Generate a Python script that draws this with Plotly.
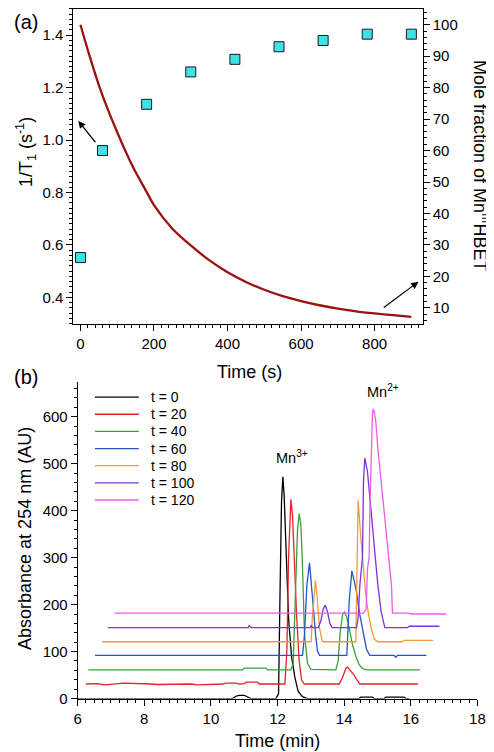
import plotly.graph_objects as go

# ---------------- Panel (a) data ----------------
curve_t = [0, 25, 50, 75, 100, 125, 150, 175, 200, 250, 300, 350, 400, 450, 500, 550, 600, 650, 700, 750, 800, 850, 900]
curve_r1 = [1.44, 1.32, 1.21, 1.115, 1.03, 0.95, 0.878, 0.815, 0.752, 0.662, 0.598, 0.542, 0.496, 0.459, 0.429, 0.405,
            0.386, 0.370, 0.357, 0.347, 0.339, 0.332, 0.326]

frac_t = [0, 60, 180, 300, 420, 540, 660, 780, 900]
frac_val = [26, 60, 74.7, 85, 89, 93, 95, 97, 97]

# ---------------- Panel (b) data ----------------
legend_names = ["t = 0", "t = 20", "t = 40", "t = 60", "t = 80", "t = 100", "t = 120"]
colors = ["#000000", "#E8202A", "#3A9E3A", "#2456C8", "#F39A3C", "#7D33D9", "#EE5CE6"]

t0_x = [6.0, 10.65, 10.75, 10.85, 11.0, 11.1, 11.2, 11.95, 12.03, 12.08, 12.12, 12.16, 12.2, 12.25, 12.33, 12.42, 12.52, 12.62, 12.75, 12.9,
        14.45, 14.5, 14.85, 14.9, 15.2, 15.25, 15.8, 15.85, 15.95]
t0_y = [0, 0, 5, 7, 7, 4, 0, 0, 10, 250, 420, 472, 430, 330, 171, 90, 45, 15, 4, 0,
        0, 3, 3, 0, 0, 3, 3, 0, 0]

t20_x = [6.25, 6.6, 6.8, 7.2, 7.4, 8.2, 8.4, 9.4, 9.6, 10.37, 10.45, 10.76, 10.85, 11.0, 11.06, 11.4, 11.45, 12.22, 12.28, 12.33, 12.4,
         12.45, 12.5, 12.57, 12.65, 12.72, 12.8, 13.85, 13.95, 14.05, 14.1, 14.2, 14.3, 14.4, 14.47, 16.21]
t20_y = [31, 32, 29, 31, 33, 31, 30, 31, 29, 31, 33, 33, 31, 32, 35, 35, 31, 31, 100, 300, 424,
         390, 300, 180, 80, 40, 31, 31, 45, 64, 67, 58, 50, 38, 31, 31]

t40_x = [6.32, 10.95, 11.0, 11.64, 11.7, 12.4, 12.47, 12.53, 12.6, 12.65, 12.7, 12.74, 12.76, 12.81, 12.9, 13.0,
         13.75, 13.82, 13.88, 13.95, 14.01, 14.07, 14.15, 14.25, 14.35, 14.45, 14.55, 14.65, 16.28]
t40_y = [61, 61, 65, 65, 61, 61, 75, 200, 360, 394, 370, 301, 241, 136, 75, 62,
         61, 80, 140, 178, 184, 175, 150, 115, 90, 72, 64, 61, 61]

t60_x = [6.52, 12.75, 12.81, 12.88, 12.96, 13.01, 13.06, 13.14, 13.2, 13.26,
         14.08, 14.15, 14.23, 14.31, 14.37, 14.47, 14.57, 14.67, 14.77, 15.5, 15.55, 15.6, 16.47]
t60_y = [92, 92, 136, 241, 289, 255, 206, 137, 101, 92,
         92, 206, 272, 248, 227, 178, 137, 105, 92, 92, 88, 92, 92]

t80_x = [6.73, 13.01, 13.04, 13.08, 13.14, 13.2, 13.26, 13.33, 13.36,
         14.35, 14.42, 14.5, 14.55, 14.6, 14.65, 14.72, 14.81, 14.91, 15.01, 15.75, 15.8, 16.67]
t80_y = [121, 121, 168, 200, 252, 206, 150, 126, 121,
         121, 422, 343, 301, 255, 220, 185, 150, 126, 121, 121, 124, 124]

t100_x = [6.91, 11.12, 11.15, 11.2, 12.98, 13.01, 13.04, 13.22, 13.3, 13.37, 13.43, 13.5, 13.57, 13.64,
          14.37, 14.42, 14.47, 14.55, 14.58, 14.62, 14.7, 14.77, 14.83, 14.89, 15.01, 15.11, 15.19, 15.22, 15.9, 15.95, 16.86]
t100_y = [151, 151, 156, 151, 151, 156, 151, 151, 165, 190, 199, 185, 160, 151,
          151, 171, 241, 301, 463, 512, 483, 427, 371, 329, 242, 185, 154, 151, 151, 154, 154]

t120_x = [7.1, 14.57, 14.62, 14.66, 14.7, 14.75, 14.78, 14.81, 14.85, 14.87, 14.9, 14.95, 15.01, 15.11, 15.21, 15.28, 15.35, 15.42, 15.45,
          15.95, 16.0, 17.06]
t120_y = [182, 182, 186, 190, 276, 301, 427, 533, 605, 617, 612, 590, 533, 462, 392, 343, 301, 241, 182,
          182, 180, 180]

series_x = [t0_x, t20_x, t40_x, t60_x, t80_x, t100_x, t120_x]
series_y = [t0_y, t20_y, t40_y, t60_y, t80_y, t100_y, t120_y]

# ---------------- Layout helpers ----------------
W, H = 494, 752
FONT = "Liberation Sans, Arial, Helvetica, sans-serif"


def px(x):
    return x / W


def py(y):
    return 1 - y / H


fig = go.Figure()

# Panel (a)
fig.add_trace(go.Scatter(x=curve_t, y=curve_r1, mode="lines", line=dict(color="#9B1111", width=2.3, shape="spline", smoothing=0.8),
                         xaxis="x", yaxis="y", showlegend=False))
fig.add_trace(go.Scatter(x=frac_t, y=frac_val, mode="markers",
                         marker=dict(symbol="square", size=10, color="#3FE0E8", line=dict(color="#1a1a1a", width=1)),
                         xaxis="x", yaxis="y2", showlegend=False))

# Panel (b)
for xs, ys, c, name in zip(series_x, series_y, colors, legend_names):
    fig.add_trace(go.Scatter(x=xs, y=ys, mode="lines", line=dict(color=c, width=1.3), name=name,
                             xaxis="x2", yaxis="y3", showlegend=False))

axis_common = dict(showline=True, linecolor="black", linewidth=1, ticks="outside", ticklen=6, tickcolor="black",
                   showgrid=False, zeroline=False, tickfont=dict(family=FONT, size=15, color="black"))

fig.update_layout(
    width=W, height=H, margin=dict(l=0, r=0, t=0, b=0),
    paper_bgcolor="white", plot_bgcolor="white",
    font=dict(family=FONT, color="black"),
    xaxis=dict(domain=[px(63), px(421)], range=[-19, 931], anchor="y", tick0=0, dtick=200, mirror=True,
               minor=dict(dtick=20, ticklen=3, ticks="outside", tickcolor="black"), **axis_common),
    yaxis=dict(domain=[py(319), py(1)], range=[0.3, 1.5], anchor="x", tick0=0, dtick=0.2, tickformat=".1f",
               minor=dict(dtick=0.02, ticklen=3, ticks="outside", tickcolor="black"), **axis_common),
    yaxis2=dict(range=[5, 105], overlaying="y", side="right", anchor="x", tick0=0, dtick=10,
                minor=dict(dtick=2, ticklen=3, ticks="outside", tickcolor="black"), **axis_common),
    xaxis2=dict(domain=[px(67.3), px(477)], range=[6, 18], anchor="y3", tick0=0, dtick=2,
                minor=dict(dtick=0.25, ticklen=3, ticks="outside", tickcolor="black"), **axis_common),
    yaxis3=dict(domain=[py(698), py(378)], range=[0, 674], anchor="x2", tick0=0, dtick=100,
                minor=dict(dtick=20, ticklen=3, ticks="outside", tickcolor="black"), **axis_common),
)

ann = []
tf = dict(family=FONT, size=18, color="black")
ann.append(dict(text="(a)", x=px(0), y=py(14), xref="paper", yref="paper", xanchor="left", yanchor="middle",
                showarrow=False, font=dict(family=FONT, size=20, color="black")))
ann.append(dict(text="(b)", x=px(0), y=py(373), xref="paper", yref="paper", xanchor="left", yanchor="middle",
                showarrow=False, font=dict(family=FONT, size=20, color="black")))
ann.append(dict(text="1/T<sub>1</sub> (s<sup>-1</sup>)", x=px(14), y=py(146), xref="paper", yref="paper",
                textangle=-90, showarrow=False, font=tf, xanchor="center", yanchor="middle"))
ann.append(dict(text="Mole fraction of Mn<sup>III</sup>HBET", x=px(481), y=py(160), xref="paper", yref="paper",
                textangle=90, showarrow=False, font=tf, xanchor="center", yanchor="middle"))
ann.append(dict(text="Time (s)", x=px(243), y=py(368), xref="paper", yref="paper", showarrow=False, font=tf,
                xanchor="center", yanchor="middle"))
ann.append(dict(text="Time (min)", x=px(272), y=py(741), xref="paper", yref="paper", showarrow=False, font=tf,
                xanchor="center", yanchor="middle"))
ann.append(dict(text="Absorbance at 254 nm (AU)", x=px(14), y=py(536), xref="paper", yref="paper",
                textangle=-90, showarrow=False, font=tf, xanchor="center", yanchor="middle"))
ann.append(dict(text="Mn<sup>3+</sup>", x=11.88, y=514, xref="x2", yref="y3", xanchor="left", yanchor="middle",
                showarrow=False, font=dict(family=FONT, size=14.5, color="black")))
ann.append(dict(text="Mn<sup>2+</sup>", x=14.62, y=655, xref="x2", yref="y3", xanchor="left", yanchor="middle",
                showarrow=False, font=dict(family=FONT, size=14.5, color="black")))
# arrows in panel (a)
ann.append(dict(x=-6, y=1.073, ax=44, ay=0.986, xref="x", yref="y", axref="x", ayref="y", text="",
                showarrow=True, arrowhead=2, arrowsize=1.2, arrowwidth=1.2, arrowcolor="black"))
ann.append(dict(x=919, y=18.3, ax=821, ay=9.8, xref="x", yref="y2", axref="x", ayref="y2", text="",
                showarrow=True, arrowhead=2, arrowsize=1.2, arrowwidth=1.2, arrowcolor="black"))

# manual legend for panel (b)
shapes = []
for i, (c, name) in enumerate(zip(colors, legend_names)):
    yy = 393.3 + 17.33 * i
    shapes.append(dict(type="line", xref="paper", yref="paper", x0=px(85), x1=px(130), y0=py(yy), y1=py(yy),
                       line=dict(color=c, width=1.3)))
    ann.append(dict(text=name, x=px(140), y=py(yy), xref="paper", yref="paper", xanchor="left", yanchor="middle",
                    showarrow=False, font=dict(family=FONT, size=14, color="black")))

fig.update_layout(annotations=ann, shapes=shapes)
fig.write_html("out.html")
